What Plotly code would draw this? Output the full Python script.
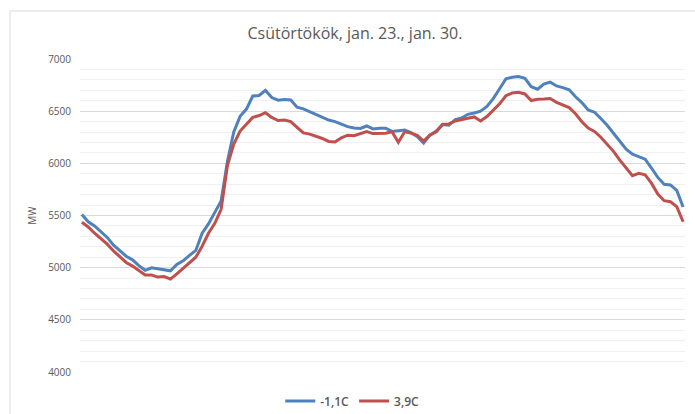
import plotly.graph_objects as go

title_text = "Csütörtökök, jan. 23., jan. 30."
y_label = "MW"
series_names = ["-1,1C", "3,9C"]
y_ticks = [4000, 4500, 5000, 5500, 6000, 6500, 7000]

# quarter-hourly points (96 per day)
blue_vals = [
    5510, 5440, 5400, 5345, 5290, 5215, 5160, 5110, 5075, 5020,
    4975, 4998, 4990, 4978, 4970, 5030, 5065, 5118, 5165, 5330,
    5420, 5530, 5640, 6020, 6300, 6450, 6520, 6645, 6650, 6700,
    6630, 6605, 6612, 6607, 6538, 6522, 6495, 6462, 6440, 6415,
    6400, 6375, 6352, 6338, 6335, 6358, 6330, 6336, 6336, 6306,
    6310, 6320, 6295, 6255, 6195, 6270, 6310, 6372, 6365, 6420,
    6435, 6470, 6482, 6500, 6545, 6620, 6715, 6810, 6825, 6831,
    6815, 6735, 6710, 6760, 6778, 6742, 6726, 6705, 6638, 6582,
    6512, 6490, 6430, 6365, 6288, 6210, 6135, 6088, 6063, 6040,
    5955, 5865, 5800, 5793, 5740, 5582,
]
red_vals = [
    5435, 5390, 5330, 5280, 5225, 5160, 5105, 5050, 5015, 4975,
    4930, 4930, 4910, 4915, 4890, 4940, 4995, 5043, 5100, 5205,
    5330, 5425, 5560, 5980, 6185, 6310, 6380, 6440, 6458, 6485,
    6440, 6410, 6415, 6400, 6345, 6292, 6280, 6262, 6238, 6210,
    6205, 6245, 6270, 6265, 6288, 6304, 6285, 6288, 6288, 6302,
    6202, 6302, 6290, 6268, 6214, 6272, 6302, 6374, 6378, 6406,
    6422, 6432, 6445, 6406, 6448, 6510, 6570, 6648, 6675, 6681,
    6665, 6602, 6614, 6617, 6622, 6585, 6560, 6534, 6475, 6399,
    6338, 6306, 6250, 6185, 6115, 6030, 5955, 5882, 5904, 5890,
    5810, 5705, 5642, 5632, 5585, 5440,
]
x_idx = list(range(len(blue_vals)))

fig = go.Figure()
fig.add_trace(go.Scatter(x=x_idx, y=blue_vals, mode="lines", name=series_names[0],
                         line=dict(color="#4f81bd", width=3)))
fig.add_trace(go.Scatter(x=x_idx, y=red_vals, mode="lines", name=series_names[1],
                         line=dict(color="#c0504d", width=3)))

font_fam = "Open Sans, Noto Sans, sans-serif"
fig.update_layout(
    width=695, height=414,
    margin=dict(l=80, r=10, t=59, b=42, autoexpand=False),
    paper_bgcolor="white", plot_bgcolor="white",
    title=dict(text=title_text, x=(355 - 80) / 605, xref="paper", xanchor="center",
               y=1 - 33 / 414, yref="container", yanchor="middle",
               font=dict(family=font_fam, size=16, color="#595959")),
    showlegend=True,
    legend=dict(orientation="h", x=0.45, xanchor="center",
                y=1 - 401 / 414, yref="container", yanchor="middle",
                font=dict(family=font_fam, size=12, color="#595959", weight=600),
                itemwidth=30, bgcolor="rgba(0,0,0,0)"),
    xaxis=dict(range=[-0.3, 95.3], showticklabels=False, showgrid=False,
               zeroline=False, showline=False, ticks=""),
    yaxis=dict(range=[4000, 7000], tickvals=y_ticks, showgrid=True,
               gridcolor="#d9d9d9", gridwidth=1, zeroline=False, showline=False,
               tickfont=dict(family=font_fam, size=10, color="#595959"),
               ticklabelstandoff=8,
               minor=dict(dtick=100, showgrid=True, gridcolor="#f0f0f0", gridwidth=1),
               title=dict(text=y_label, standoff=9,
                          font=dict(family=font_fam, size=10, color="#595959"))),
    shapes=[
        dict(type="line", xref="paper", yref="paper",
             x0=(10 - 80) / 605, x1=(700 - 80) / 605,
             y0=(372 - 11) / 313, y1=(372 - 11) / 313,
             line=dict(color="#d9d9d9", width=1)),
        dict(type="line", xref="paper", yref="paper",
             x0=(10 - 80) / 605, x1=(10 - 80) / 605,
             y0=(372 - 11) / 313, y1=(372 - 420) / 313,
             line=dict(color="#d9d9d9", width=1)),
    ],
)

fig.write_html("out.html")
